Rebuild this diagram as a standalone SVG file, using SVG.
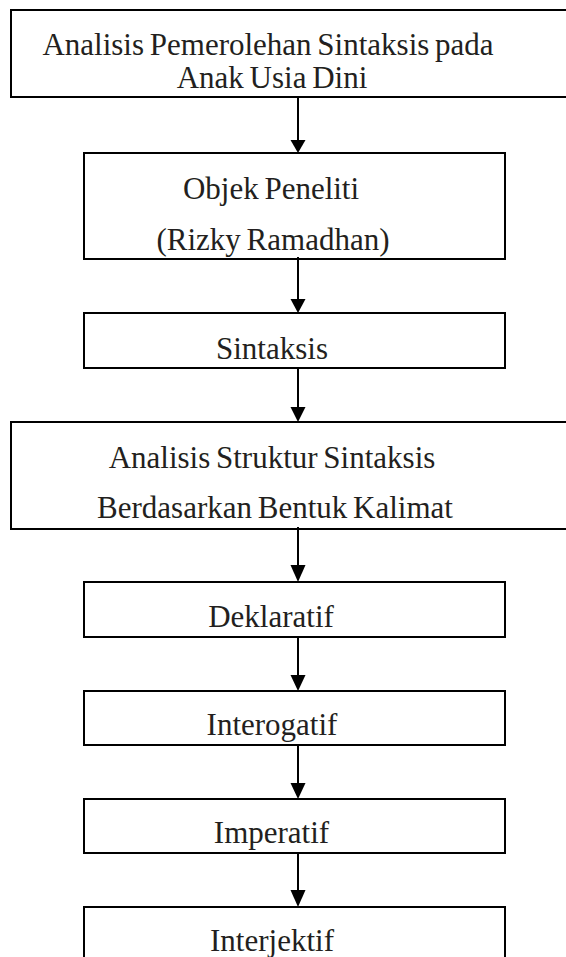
<svg xmlns="http://www.w3.org/2000/svg" width="566" height="957" viewBox="0 0 566 957">
<style>
.box{fill:#fff;stroke:#000;stroke-width:2}
.t{font-family:"Liberation Serif","Times New Roman",serif;font-size:31px;fill:#231f20;text-anchor:middle;word-spacing:-2px}
.ln{stroke:#000;stroke-width:2;fill:none}
.hd{fill:#000}
</style>
<rect width="566" height="957" fill="#fff"/>
<g id="n1"><rect class="box" x="11" y="10" width="570" height="87"/><text class="t" x="268" y="55">Analisis Pemerolehan Sintaksis pada</text><text class="t" x="272" y="88">Anak Usia Dini</text></g>
<g id="n2"><rect class="box" x="84" y="153" width="421" height="106"/><text class="t" x="271" y="199">Objek Peneliti</text><text class="t" x="273" y="250">(Rizky Ramadhan)</text></g>
<g id="n3"><rect class="box" x="84" y="313" width="421" height="55"/><text class="t" x="272" y="359">Sintaksis</text></g>
<g id="n4"><rect class="box" x="11" y="422" width="570" height="107"/><text class="t" x="272" y="468">Analisis Struktur Sintaksis</text><text class="t" x="275" y="518">Berdasarkan Bentuk Kalimat</text></g>
<g id="n5"><rect class="box" x="84" y="582" width="421" height="55"/><text class="t" x="271" y="627">Deklaratif</text></g>
<g id="n6"><rect class="box" x="84" y="691" width="421" height="54"/><text class="t" x="272" y="735">Interogatif</text></g>
<g id="n7"><rect class="box" x="84" y="799" width="421" height="54"/><text class="t" x="271.5" y="843">Imperatif</text></g>
<g id="n8"><rect class="box" x="84" y="907" width="421" height="70"/><text class="t" x="272" y="951">Interjektif</text></g>
<g id="connectors">
<line class="ln" x1="298" y1="97" x2="298" y2="141"/><polygon class="hd" points="290.5,140 305.5,140 298,153"/>
<line class="ln" x1="298" y1="257" x2="298" y2="300"/><polygon class="hd" points="290.5,299 305.5,299 298,313"/>
<line class="ln" x1="298" y1="368" x2="298" y2="408"/><polygon class="hd" points="290.5,407 305.5,407 298,422"/>
<line class="ln" x1="298" y1="527" x2="298" y2="566"/><polygon class="hd" points="290.5,565 305.5,565 298,582"/>
<line class="ln" x1="298" y1="637" x2="298" y2="676"/><polygon class="hd" points="290.5,675 305.5,675 298,691"/>
<line class="ln" x1="298" y1="745" x2="298" y2="784"/><polygon class="hd" points="290.5,783 305.5,783 298,799"/>
<line class="ln" x1="298" y1="853" x2="298" y2="891"/><polygon class="hd" points="290.5,890 305.5,890 298,907"/>
</g>
</svg>
